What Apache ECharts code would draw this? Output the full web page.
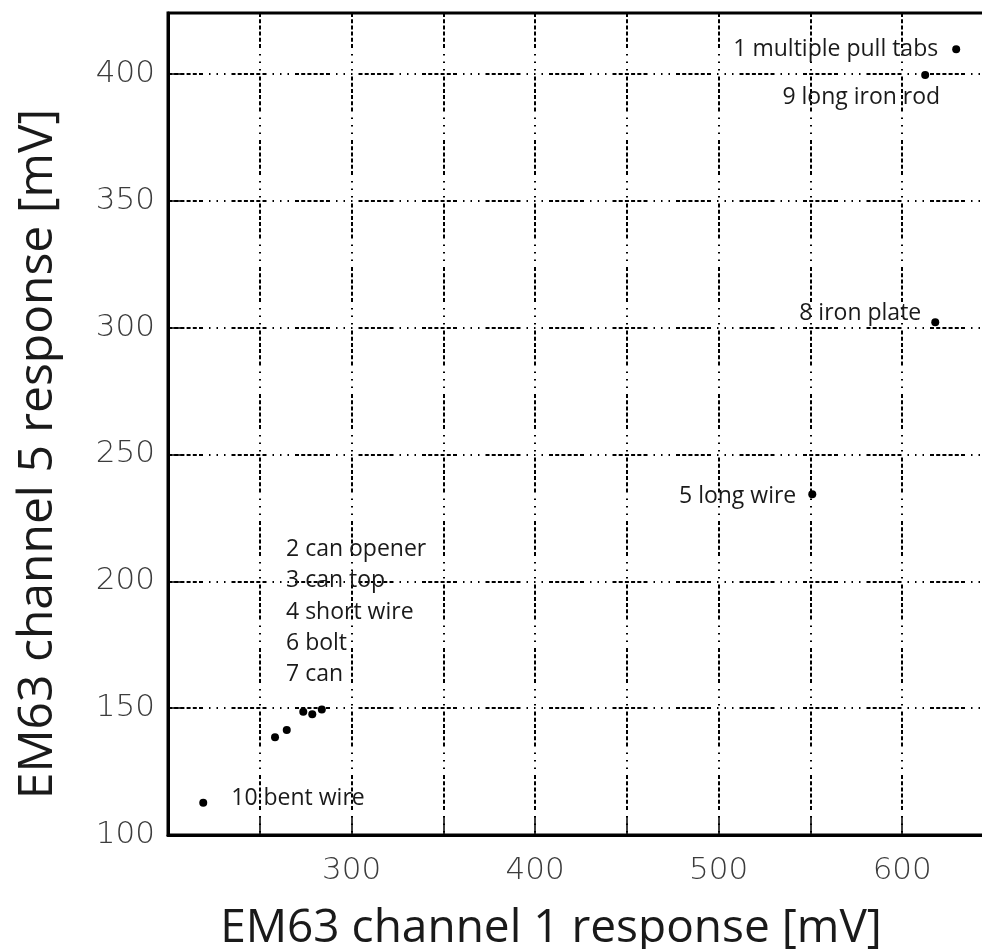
<!DOCTYPE html>
<html>
<head>
<meta charset="utf-8">
<script src="https://cdn.jsdelivr.net/npm/echarts@6/dist/echarts.min.js"></script>
<style>
  html, body { margin: 0; padding: 0; background: #fff; }
  #chart { width: 982px; height: 949px; }
</style>
</head>
<body>
<div id="chart"></div>
<script>
// EM63 channel responses for the buried test items
const itemNames = [
  '1 multiple pull tabs', '9 long iron rod', '8 iron plate', '5 long wire', '10 bent wire',
  '2 can opener', '3 can top', '4 short wire', '6 bolt', '7 can'
];
const channel1 = [629.4, 612.5, 618.0, 551.0, 219.2, 258.3, 264.7, 273.7, 278.6, 283.8];
const channel5 = [409.7, 399.6, 302.1, 234.3, 112.7, 138.5, 141.4, 148.6, 147.6, 149.5];

// Items whose names are listed together as one block next to the cluster
const clusterItems = ['2 can opener', '3 can top', '4 short wire', '6 bolt', '7 can'];

const xTickLabels = [300, 400, 500, 600];
const yTickLabels = [100, 150, 200, 250, 300, 350, 400];

// Per-item label placement: offset of the text anchor from the dot centre
const labelPlacement = {
  '1 multiple pull tabs': { dx: -18, dy: 0, align: 'right' },
  '9 long iron rod': { dx: 15, dy: 23, align: 'right' },
  '8 iron plate': { dx: -14, dy: -9, align: 'right' },
  '5 long wire': { dx: -16, dy: 2, align: 'right' },
  '10 bent wire': { dx: 28, dy: -4, align: 'left' }
};

const DOT = 8;
const INK = '#1a1a1a';
const textFont = '"Open Sans", "Noto Sans", sans-serif';
const tickFont = '"DejaVu Sans", sans-serif';
const gridDash = [4, 2.2, 4, 2.2, 4, 2.2, 4, 2.2, 4, 2.2, 4, 6, 1.5, 6, 1.5, 6, 1.5, 6];

const points = itemNames.map((name, i) => {
  const p = labelPlacement[name];
  const item = { name: name, value: [channel1[i], channel5[i]] };
  if (p) {
    item.label = {
      show: true,
      formatter: name,
      position: [p.dx + DOT / 2, p.dy + DOT / 2],
      align: p.align,
      verticalAlign: 'middle',
      color: INK,
      fontFamily: textFont,
      fontSize: 23,
      textBorderWidth: 0
    };
  }
  return item;
});

const chart = echarts.init(document.getElementById('chart'), null, { renderer: 'canvas' });

chart.setOption({
  backgroundColor: '#ffffff',
  animation: false,
  grid: {
    left: 168, top: 13, right: -12, bottom: 114,
    outerBoundsMode: 'none',
    show: true, borderColor: '#000', borderWidth: 3, backgroundColor: 'transparent'
  },
  xAxis: {
    type: 'value', min: 200, max: 650, interval: 50,
    axisLine: { show: true, lineStyle: { color: '#000', width: 3 } },
    axisTick: { show: true, inside: true, length: 18, lineStyle: { color: '#000', width: 1.5 } },
    axisLabel: {
      margin: 20, color: '#3c3c3c', fontFamily: tickFont, fontSize: 31, fontWeight: 200,
      formatter: v => (xTickLabels.includes(v) ? String(v) : '')
    },
    splitLine: { show: true, lineStyle: { color: '#000', width: 2, type: gridDash } }
  },
  yAxis: {
    type: 'value', min: 100, max: 424, interval: 50,
    axisLine: { show: true, lineStyle: { color: '#000', width: 3 } },
    axisTick: { show: true, inside: true, length: 15, lineStyle: { color: '#000', width: 1.5 } },
    axisLabel: {
      margin: 13, color: '#3c3c3c', fontFamily: tickFont, fontSize: 31, fontWeight: 200,
      formatter: v => (yTickLabels.includes(v) ? String(v) : '')
    },
    splitLine: { show: true, lineStyle: { color: '#000', width: 2, type: gridDash } }
  },
  series: [{
    type: 'scatter',
    symbol: 'circle',
    symbolSize: DOT,
    itemStyle: { color: '#000', opacity: 1 },
    label: { show: false, color: INK, fontFamily: textFont, fontSize: 23 },
    data: points,
    z: 5
  }],
  graphic: [
    {
      type: 'text', left: 286, top: 534,
      style: {
        text: clusterItems.join('\n'),
        font: '23px ' + textFont, fill: INK, lineHeight: 31.2
      },
      z: 10
    },
    {
      type: 'text', x: 551, y: 929,
      style: {
        text: 'EM63 channel 1 response [mV]',
        font: '46px ' + textFont, fill: INK, align: 'center', verticalAlign: 'middle'
      }
    },
    {
      type: 'text', x: 38, y: 454, rotation: Math.PI / 2,
      style: {
        text: 'EM63 channel 5 response [mV]',
        font: '48px ' + textFont, fill: INK, align: 'center', verticalAlign: 'middle'
      }
    }
  ]
});
</script>
</body>
</html>
